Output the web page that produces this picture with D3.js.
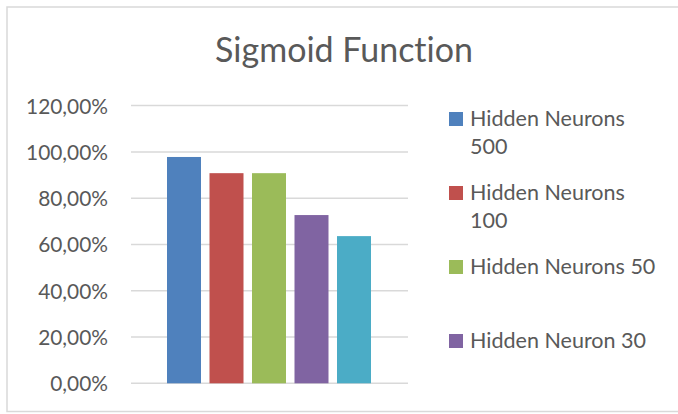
<!DOCTYPE html>
<html>
<head>
<meta charset="utf-8">
<script src="https://cdn.jsdelivr.net/npm/d3@7"></script>
<style>
  html, body { margin: 0; padding: 0; background: #fff; }
  svg { display: block; }
  text { font-family: Lato, "Open Sans", sans-serif; fill: #595959; font-variant-ligatures: none; font-feature-settings: "liga" 0; }
</style>
</head>
<body>
<svg id="chart" width="678" height="414"></svg>
<script>
// Accuracy of the network with a sigmoid activation, by hidden layer size
const title = "Sigmoid Function";
const seriesNames = ["Hidden Neurons 500", "Hidden Neurons 100", "Hidden Neurons 50", "Hidden Neuron 30", "Hidden Neurons 10"];
const seriesValues = [0.978, 0.908, 0.908, 0.727, 0.636];
const seriesColors = ["#4F81BD", "#C0504D", "#9BBB59", "#8064A2", "#4BACC6"];
const yTicks = [0, 0.2, 0.4, 0.6, 0.8, 1.0, 1.2];

const svg = d3.select("#chart");
const W = 678, H = 414;

// Chart area frame
svg.append("rect")
  .attr("x", 7).attr("y", 7)
  .attr("width", W + 10).attr("height", 411.5 - 7)
  .attr("fill", "#fff")
  .attr("stroke", "#d9d9d9").attr("stroke-width", 1.5);

// Resize a text node so its rendered width equals the target width
function fitWidth(sel, target) {
  const w = sel.node().getComputedTextLength();
  const fs = parseFloat(sel.attr("font-size"));
  sel.attr("font-size", fs * target / w);
  return fs * target / w;
}

// Title
const t = svg.append("text")
  .attr("x", 344).attr("y", 62)
  .attr("text-anchor", "middle")
  .attr("font-size", 30)
  .text(title);
fitWidth(t, 258);

// Scales
const plotLeft = 131, plotRight = 408;
const y = d3.scaleLinear().domain([0, 1.2]).range([383.3, 105.6]);
const x = d3.scaleBand()
  .domain(seriesNames)
  .range([162.75, 375.25])
  .paddingInner(0.2)
  .paddingOuter(0.1);

const locale = d3.formatLocale({ decimal: ",", thousands: ".", grouping: [3], currency: ["", "€"] });
const fmt = locale.format(".2%");

// Gridlines
svg.append("g")
  .selectAll("line")
  .data(yTicks)
  .join("line")
  .attr("x1", plotLeft).attr("x2", plotRight)
  .attr("y1", d => y(d)).attr("y2", d => y(d))
  .attr("stroke", "#d9d9d9").attr("stroke-width", 1.5);

// Y axis labels
const yAxis = svg.append("g")
  .attr("transform", `translate(108,0)`)
  .call(d3.axisLeft(y).tickValues(yTicks).tickFormat(fmt).tickSize(0).tickPadding(0));
yAxis.select(".domain").remove();
yAxis.selectAll("text")
  .attr("font-family", "Lato, 'Open Sans', sans-serif")
  .attr("fill", "#595959")
  .attr("font-size", 18)
  .attr("dy", "0.36em");
// size the tick labels from the widest one
const topLabel = yAxis.selectAll("text").filter(d => d === 1.2);
const tickFs = fitWidth(topLabel, 82);
yAxis.selectAll("text").attr("font-size", tickFs);

// Bars
svg.append("g")
  .selectAll("rect")
  .data(seriesNames.map((n, i) => ({ name: n, value: seriesValues[i], color: seriesColors[i] })))
  .join("rect")
  .attr("x", d => x(d.name))
  .attr("width", x.bandwidth())
  .attr("y", d => y(d.value))
  .attr("height", d => y(0) - y(d.value))
  .attr("fill", d => d.color);

// Legend: wrapped entries, as many as fit in the legend area
const legend = svg.append("g");
const legX = 449, legTop = 112, entryStep = 74, lineH = 28, maxTextW = 190, legBottom = 395;
const probe = legend.append("text").attr("font-size", 20).text("Hidden Neurons");
const legFs = fitWidth(probe, 155);
probe.remove();

function wrap(str) {
  const words = str.split(" ");
  const lines = [];
  let cur = "";
  const m = legend.append("text").attr("font-size", legFs);
  words.forEach(w => {
    const test = cur ? cur + " " + w : w;
    m.text(test);
    if (m.node().getComputedTextLength() > maxTextW && cur) {
      lines.push(cur);
      cur = w;
    } else {
      cur = test;
    }
  });
  if (cur) lines.push(cur);
  m.remove();
  return lines;
}

seriesNames.forEach((name, i) => {
  const top = legTop + i * entryStep;
  if (top + 14 > legBottom) return;
  const g = legend.append("g");
  g.append("rect")
    .attr("x", legX).attr("y", top)
    .attr("width", 14).attr("height", 14)
    .attr("fill", seriesColors[i]);
  const txt = g.append("text")
    .attr("x", legX + 21).attr("y", top + 14)
    .attr("font-size", legFs);
  wrap(name).forEach((ln, j) => {
    txt.append("tspan").attr("x", legX + 21).attr("y", top + 14 + j * lineH).text(ln);
  });
});
</script>
</body>
</html>
